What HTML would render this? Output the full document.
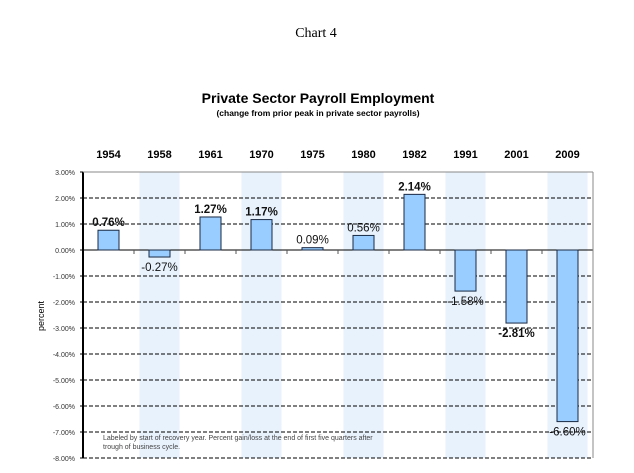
<!DOCTYPE html>
<html><head><meta charset="utf-8"><style>
body{margin:0;background:#fff}
svg{display:block}
</style></head><body>
<svg width="634" height="473" xmlns="http://www.w3.org/2000/svg">
<text x="316" y="37" text-anchor="middle" font-family="Liberation Serif, serif" font-size="14">Chart 4</text>
<text x="318" y="103" text-anchor="middle" font-family="Liberation Sans, sans-serif" font-size="14" font-weight="bold">Private Sector Payroll Employment</text>
<text x="318" y="116" text-anchor="middle" font-family="Liberation Sans, sans-serif" font-size="8.5" font-weight="bold">(change from prior peak  in private sector payrolls)</text>
<text transform="translate(44,316) rotate(-90)" text-anchor="middle" font-family="Liberation Sans, sans-serif" font-size="9">percent</text>
<g id="bands"></g><g id="grid"></g><g id="bars"></g><g id="labels"></g>
<text x="103" y="440" font-family="Liberation Sans, sans-serif" font-size="7" fill="#444">Labeled by start of recovery year.  Percent gain/loss at the end of first five quarters after</text>
<text x="103" y="449" font-family="Liberation Sans, sans-serif" font-size="7" fill="#444">trough of business cycle.</text>
</svg>
<script>
const years=["1954","1958","1961","1970","1975","1980","1982","1991","2001","2009"];
const values=[0.76,-0.27,1.27,1.17,0.09,0.56,2.14,-1.58,-2.81,-6.60];
const boldLabels=[true,false,true,true,false,false,true,false,true,false];
const yTicks=[3,2,1,0,-1,-2,-3,-4,-5,-6,-7,-8];
const NS="http://www.w3.org/2000/svg";
const L=83,R=593,T=172,B=458,yMax=3,yMin=-8;
const slot=(R-L)/years.length;
const xc=i=>L+slot*(i+0.5);
const y=v=>T+(yMax-v)/(yMax-yMin)*(B-T);
function mk(tag,attrs,parent,txt){const e=document.createElementNS(NS,tag);for(const k in attrs)e.setAttribute(k,attrs[k]);if(txt!=null)e.textContent=txt;document.getElementById(parent).appendChild(e);return e;}
years.forEach((yr,i)=>{
 if(i%2===1){const b=mk('rect',{x:xc(i)-20,y:T,width:40,height:B-T,fill:'#e8f2fd'},'bands');
 
 }
});
yTicks.forEach(t=>{
 const l=mk('line',{x1:L,x2:R,y1:y(t),y2:y(t),stroke:'#000','stroke-width':1,'stroke-dasharray':t===0?'none':'4,2'},'grid');
 
 
 const tx=mk('text',{x:L-8,y:y(t)+3,'text-anchor':'end','font-family':'Liberation Sans, sans-serif','font-size':'7',fill:'#333'},'grid',t.toFixed(2)+'%');
 
 
 const tk=mk('line',{x1:L-3,x2:L,y1:y(t),y2:y(t),stroke:'#000'},'grid');
 
 
});
for(let i=1;i<=years.length;i++){const tk=mk('line',{x1:L+slot*i,x2:L+slot*i,y1:y(0),y2:y(0)+4,stroke:'#555'},'grid');
 
 }
const ax=mk('line',{x1:L,x2:L,y1:T,y2:B,stroke:'#000','stroke-width':2},'grid');


const rb=mk('line',{x1:R,x2:R,y1:T,y2:B,stroke:'#888'},'grid');


const tb=mk('line',{x1:L,x2:R,y1:T,y2:T,stroke:'#888'},'grid');


years.forEach((yr,i)=>{
 const v=values[i],y0=y(0),yv=y(v);
 const r=mk('rect',{x:xc(i)-10.5,y:Math.min(y0,yv),width:21,height:Math.max(1,Math.abs(yv-y0)),fill:'#99ccff',stroke:'#1a2a44','stroke-width':1},'bars');
 
 
 const yl=mk('text',{x:xc(i),y:158,'text-anchor':'middle','font-family':'Liberation Sans, sans-serif','font-size':'11','font-weight':'bold'},'labels',yr);
 
 
 const ly=v>=0?yv-4:yv+14;
 const vl=mk('text',{x:xc(i),y:ly,'text-anchor':'middle','font-family':'Liberation Sans, sans-serif','font-size':'11.5','font-weight':boldLabels[i]?'bold':'normal',fill:'#111'},'labels',v.toFixed(2)+'%');
 
 
});
</script>
</body></html>
